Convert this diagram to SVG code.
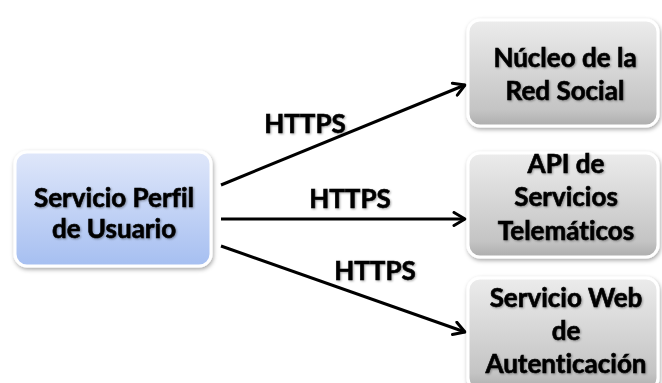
<svg xmlns="http://www.w3.org/2000/svg" width="662" height="383" viewBox="0 0 662 383">
<defs>
<linearGradient id="gBlue" x1="0" y1="0" x2="0" y2="1">
<stop offset="0" stop-color="#dfe7fa"/>
<stop offset="1" stop-color="#a6bff1"/>
</linearGradient>
<linearGradient id="gGray" x1="0" y1="0" x2="0" y2="1">
<stop offset="0" stop-color="#ececec"/>
<stop offset="0.85" stop-color="#c4c4c4"/>
<stop offset="1" stop-color="#adadad"/>
</linearGradient>
<filter id="shadow" x="-10%" y="-10%" width="130%" height="130%">
<feDropShadow dx="1" dy="2" stdDeviation="2" flood-color="#000" flood-opacity="0.35"/>
</filter>
<filter id="tshadow" x="-10%" y="-20%" width="130%" height="150%">
<feDropShadow dx="1" dy="1" stdDeviation="1" flood-color="#000" flood-opacity="0.35"/>
</filter>
<marker id="arrow" markerUnits="userSpaceOnUse" viewBox="0 0 16 16" refX="14" refY="8" markerWidth="16" markerHeight="16" orient="auto">
<path d="M3,1.5 L14,8 L3,14.5" fill="none" stroke="#000" stroke-width="3" stroke-linecap="round" stroke-linejoin="round"/>
</marker>
</defs>
<style>
.box{stroke:#fff;stroke-width:3;filter:url(#shadow)}
.lbl{font-family:Lato,"Open Sans","Liberation Sans",sans-serif;font-weight:bold;font-size:26px;fill:#000;stroke:#000;stroke-width:0.6;text-anchor:middle;font-variant-ligatures:none;filter:url(#tshadow)}
.edge{stroke:#000;stroke-width:3;fill:none;marker-end:url(#arrow)}
</style>
<rect width="662" height="383" fill="#fff"/>
<g id="connectors">
<line class="edge" x1="221" y1="185" x2="465" y2="85"/>
<line class="edge" x1="221" y1="219" x2="465" y2="219"/>
<line class="edge" x1="221" y1="246" x2="465" y2="332"/>
<text class="lbl" x="305" y="133">HTTPS</text>
<text class="lbl" x="350" y="208">HTTPS</text>
<text class="lbl" x="375" y="280">HTTPS</text>
</g>
<g id="servicio-perfil">
<rect class="box" x="15" y="152" width="196" height="114" rx="12" fill="url(#gBlue)"/>
<text class="lbl" x="114" y="207">Servicio Perfil</text>
<text class="lbl" x="114" y="238">de Usuario</text>
</g>
<g id="nucleo">
<rect class="box" x="468" y="20" width="190" height="106" rx="12" fill="url(#gGray)"/>
<text class="lbl" x="565" y="67">Núcleo de la</text>
<text class="lbl" x="565" y="100">Red Social</text>
</g>
<g id="api">
<rect class="box" x="468" y="153" width="190" height="104" rx="12" fill="url(#gGray)"/>
<text class="lbl" x="566" y="173">API de</text>
<text class="lbl" x="566" y="206">Servicios</text>
<text class="lbl" x="566" y="240">Telemáticos</text>
</g>
<g id="autenticacion">
<rect class="box" x="468" y="278" width="190" height="112" rx="12" fill="url(#gGray)"/>
<text class="lbl" x="566" y="307">Servicio Web</text>
<text class="lbl" x="566" y="340">de</text>
<text class="lbl" x="566" y="373">Autenticación</text>
</g>
</svg>
